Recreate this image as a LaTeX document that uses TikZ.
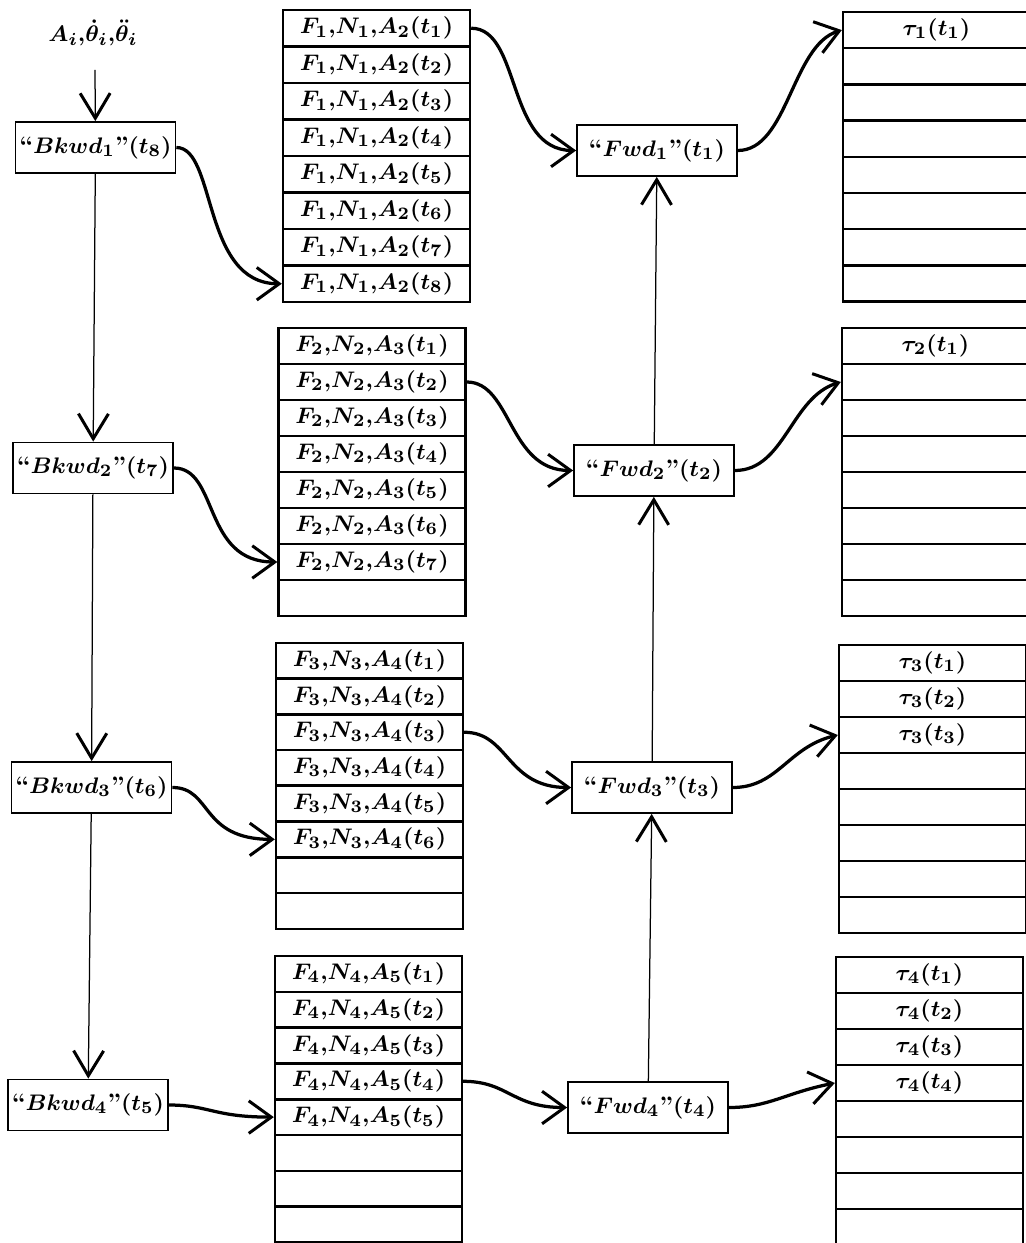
\documentclass[tikz,border=0pt]{standalone}
\usetikzlibrary{arrows.meta}
\begin{document}
\begin{tikzpicture}[x=0.4pt,y=-0.4pt,
  every node/.style={font=\fontsize{9.5}{11}\selectfont\bfseries\boldmath, inner sep=0pt},
  box/.style={draw, line width=0.7pt, minimum width=64pt, minimum height=20.4pt},
  cell/.style={draw, line width=0.95pt, minimum width=74.8pt, minimum height=14.4pt},
  thinarrow/.style={line width=0.5pt, -{Straight Barb[length=10pt,width=12pt,line width=1.2pt]}},
  wave/.style={line width=1.3pt, -{Straight Barb[length=9pt,width=13pt,line width=1.2pt]}}]
\useasboundingbox (0,0) rectangle (1025,1243);

% input label
\node (lbl) at (93,33) {$A_i{,}\dot{\theta}_i{,}\ddot{\theta}_i$};
\coordinate (in) at (95,70);

% backward boxes
\node[box] (b1) at (95.5,147.5) {``$Bkwd_1$''$(t_8)$};
\node[box] (b2) at (93,468) {``$Bkwd_2$''$(t_7)$};
\node[box] (b3) at (91.5,787.5) {``$Bkwd_3$''$(t_6)$};
\node[box] (b4) at (88,1105) {``$Bkwd_4$''$(t_5)$};

% forward boxes
\node[box] (f1) at (657,150.5) {``$Fwd_1$''$(t_1)$};
\node[box] (f2) at (654,470.5) {``$Fwd_2$''$(t_2)$};
\node[box] (f3) at (652,787.5) {``$Fwd_3$''$(t_3)$};
\node[box] (f4) at (648,1107.5) {``$Fwd_4$''$(t_4)$};

% middle stacks
\foreach \k/\x/\top/\h/\n in {1/376.5/10/36.5/8, 2/372/328/36/7, 3/369.5/643/35.7/6, 4/368.5/956/35.8/5} {
  \pgfmathtruncatemacro{\kk}{\k+1}
  \foreach \i in {1,...,8} {
    \ifnum\i>\n
      \node[cell] (s\k-\i) at (\x, {\top+(\i-0.5)*\h}) {};
    \else
      \node[cell] (s\k-\i) at (\x, {\top+(\i-0.5)*\h}) {$F_{\k}{,}N_{\k}{,}A_{\kk}(t_{\i})$};
    \fi
  }
}

% torque stacks
\foreach \k/\x/\top/\h/\n in {1/936.5/12/36.2/1, 2/935.5/328/36/1, 3/932.5/645/36/3, 4/929.5/957/36/4} {
  \foreach \i in {1,...,8} {
    \ifnum\i>\n
      \node[cell] (t\k-\i) at (\x, {\top+(\i-0.5)*\h}) {};
    \else
      \node[cell] (t\k-\i) at (\x, {\top+(\i-0.5)*\h}) {$\tau_{\k}(t_{\i})$};
    \fi
  }
}

% vertical flows
\draw[thinarrow] (in) -- (b1);
\draw[thinarrow] (b1) -- (b2);
\draw[thinarrow] (b2) -- (b3);
\draw[thinarrow] (b3) -- (b4);
\draw[thinarrow] (f4) -- (f3);
\draw[thinarrow] (f3) -- (f2);
\draw[thinarrow] (f2) -- (f1);

% backward to stacks
\draw[wave] (b1.east) .. controls +(40,0) and +(-80,0) .. (s1-8.west);
\draw[wave] (b2.east) .. controls +(45,0) and +(-75,0) .. (s2-7.west);
\draw[wave] (b3.east) .. controls +(40,0) and +(-75,0) .. (s3-6.west);
\draw[wave] (b4.east) .. controls +(40,0) and +(-60,0) .. (s4-5.west);

% stacks to forward
\draw[wave] (s1-1.east) .. controls +(50,0) and +(-70,0) .. (f1.west);
\draw[wave] (s2-2.east) .. controls +(45,0) and +(-65,0) .. (f2.west);
\draw[wave] (s3-3.east) .. controls +(45,0) and +(-65,0) .. (f3.west);
\draw[wave] (s4-4.east) .. controls +(45,0) and +(-55,0) .. (f4.west);

% forward to torques
\draw[wave] (f1.east) .. controls +(50,0) and +(-50,15) .. (t1-1.west);
\draw[wave] (f2.east) .. controls +(50,0) and +(-50,15) .. (t2-2.west);
\draw[wave] (f3.east) .. controls +(45,0) and +(-50,12) .. (t3-3.west);
\draw[wave] (f4.east) .. controls +(40,0) and +(-50,10) .. (t4-4.west);
\end{tikzpicture}
\end{document}
